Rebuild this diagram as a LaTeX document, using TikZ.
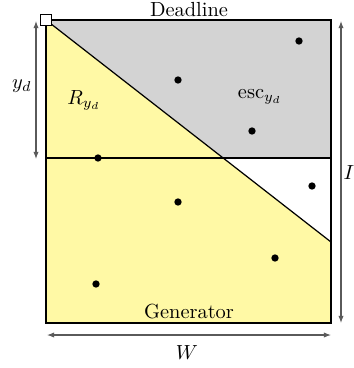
\documentclass[tikz,border=0pt]{standalone}
\usetikzlibrary{arrows.meta}
\definecolor{genyellow}{RGB}{255,249,165}
\definecolor{escgray}{RGB}{211,211,211}
\definecolor{dimgray}{RGB}{90,90,90}
\begin{document}
\begin{tikzpicture}[x=0.49pt,y=-0.49pt,
  dot/.style={circle,fill=black,inner sep=0pt,minimum size=3.6pt},
  dimarrow/.style={draw=dimgray,line width=0.5pt,{Latex[length=3.5pt,width=2.6pt]}-{Latex[length=3.5pt,width=2.6pt]}},
  lbl/.style={inner sep=1pt}]
\useasboundingbox (0,0) rectangle (353,368);
% corners
\coordinate (TL) at (46,20);
\coordinate (TR) at (331,20);
\coordinate (BL) at (46,323);
\coordinate (BR) at (331,323);
\coordinate (DR) at (331,242);
\coordinate (ML) at (46,158);
\coordinate (MR) at (331,158);
\coordinate (MX) at (223,158);
% regions
\fill[escgray] (TL) -- (TR) -- (MR) -- (MX) -- cycle;
\fill[genyellow] (TL) -- (DR) -- (BR) -- (BL) -- cycle;
% lines
\draw[line width=0.6pt] (TL) rectangle (BR);
\draw[line width=1.1pt] (BL) -- (BR);
\draw[line width=0.8pt] (TL) -- (BL);
\draw[line width=0.6pt] (ML) -- (MR);
\draw[line width=0.6pt] (TL) -- (DR);
\node[draw,fill=white,line width=0.5pt,minimum size=5pt,inner sep=0pt] (sq) at (TL) {};
% dots
\node[dot] (p1) at (299,41) {};
\node[dot] (p2) at (178,80) {};
\node[dot] (p3) at (252,131) {};
\node[dot] (p4) at (98,158) {};
\node[dot] (p5) at (312,186) {};
\node[dot] (p6) at (178,202) {};
\node[dot] (p7) at (275,258) {};
\node[dot] (p8) at (96,284) {};
% labels
\node[lbl] (dl) at (189,10) {Deadline};
\node[lbl] (gen) at (189,312) {Generator};
\node[lbl] (R) at (84,100) {$R_{y_d}$};
\node[lbl] (esc) at (260,97) {$\mathrm{esc}_{y_d}$};
% dimension arrows
\coordinate (a1) at (36,21);
\coordinate (a2) at (36,159);
\draw[dimarrow] (a1) -- (a2);
\node[lbl] (yd) at (22,86) {$y_d$};
\coordinate (b1) at (341,21);
\coordinate (b2) at (341,323);
\draw[dimarrow] (b1) -- (b2);
\node[lbl] (I) at (349,173) {$I$};
\coordinate (c1) at (47,335);
\coordinate (c2) at (331,335);
\draw[dimarrow] (c1) -- (c2);
\node[lbl] (W) at (187,353) {$W$};
\end{tikzpicture}
\end{document}
